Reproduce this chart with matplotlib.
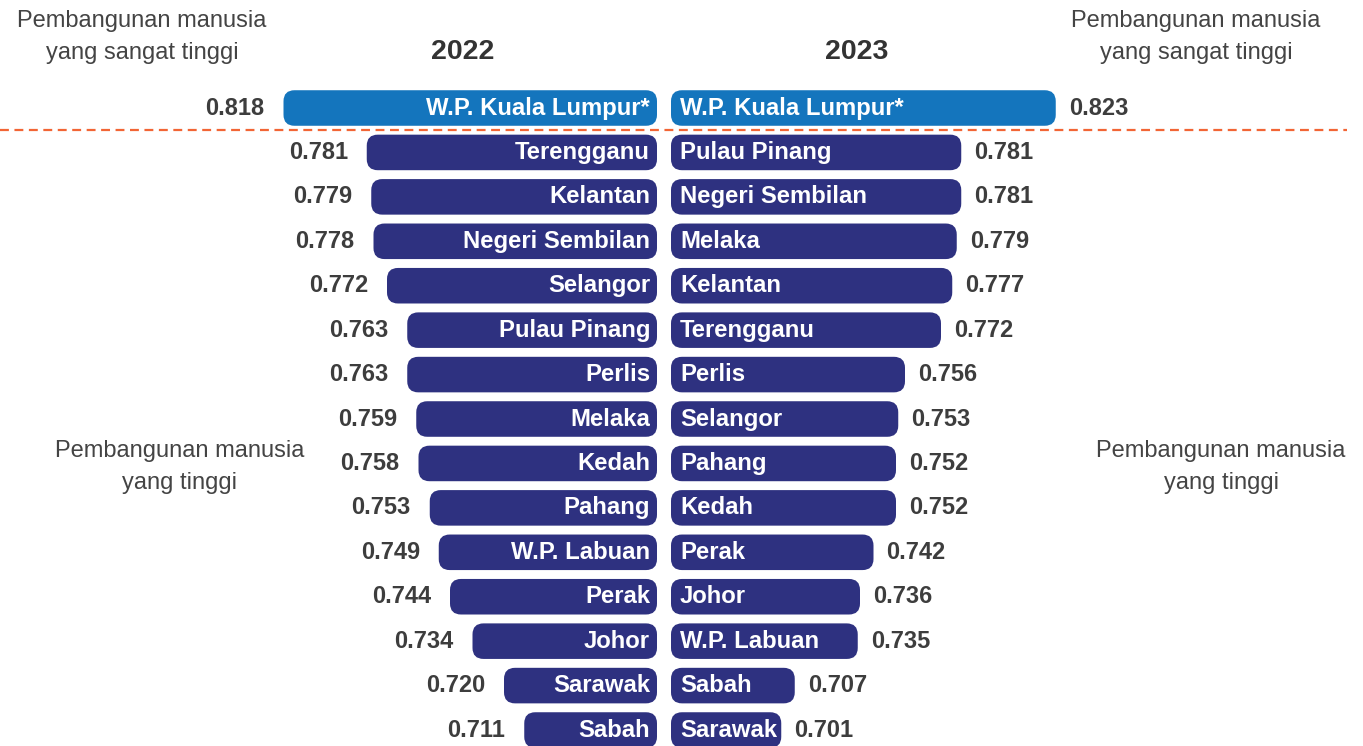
import matplotlib
matplotlib.use("Agg")
from matplotlib import pyplot as plt
from matplotlib.patches import FancyBboxPatch
from matplotlib.lines import Line2D

plt.rcParams['font.family'] = ['Liberation Sans', 'DejaVu Sans']

regions_2022 = ["W.P. Kuala Lumpur*", "Terengganu", "Kelantan", "Negeri Sembilan", "Selangor",
                "Pulau Pinang", "Perlis", "Melaka", "Kedah", "Pahang", "W.P. Labuan", "Perak",
                "Johor", "Sarawak", "Sabah"]
hdi_2022 = [0.818, 0.781, 0.779, 0.778, 0.772, 0.763, 0.763, 0.759, 0.758, 0.753,
            0.749, 0.744, 0.734, 0.720, 0.711]
regions_2023 = ["W.P. Kuala Lumpur*", "Pulau Pinang", "Negeri Sembilan", "Melaka", "Kelantan",
                "Terengganu", "Perlis", "Selangor", "Pahang", "Kedah", "Perak", "Johor",
                "W.P. Labuan", "Sabah", "Sarawak"]
hdi_2023 = [0.823, 0.781, 0.781, 0.779, 0.777, 0.772, 0.756, 0.753, 0.752, 0.752,
            0.742, 0.736, 0.735, 0.707, 0.701]
years = ["2022", "2023"]

W, H, DPI = 1363, 746, 100
base = 0.652        # value where bars start
scale = 2250.0      # pixels per index unit
row_px = 44.43      # pixels per row
top_row_px = 108

blue = '#1475bd'
navy = '#2e3180'
val_color = '#3d3d3d'
note_color = '#444444'

fig = plt.figure(figsize=(W / DPI, H / DPI), dpi=DPI)

y_top = -top_row_px / row_px
y_bot = (H - top_row_px) / row_px

left_w = 657
right_x0 = 671
ax_l = fig.add_axes([0, 0, left_w / W, 1])
ax_r = fig.add_axes([right_x0 / W, 0, (W - right_x0) / W, 1])
ax_l.set_xlim(base + left_w / scale, base)
ax_r.set_xlim(base, base + (W - right_x0) / scale)

aspect = scale / row_px
radius = 11 / scale


def draw_side(ax, names, values, left):
    ax.set_ylim(y_bot, y_top)
    ax.axis('off')
    for i, (name, v) in enumerate(zip(names, values)):
        color = blue if i == 0 else navy
        box = FancyBboxPatch((base, i - 0.4), v - base, 0.8,
                             boxstyle=f"round,pad=0,rounding_size={radius}",
                             mutation_aspect=aspect, facecolor=color,
                             edgecolor='none')
        ax.add_patch(box)
        if left:
            ax.text(base + 7 / scale, i, name, ha='right', va='center',
                    color='white', fontsize=17.2, fontweight='bold')
            ax.text(v + 19 / scale, i, f"{v:.3f}", ha='right', va='center',
                    color=val_color, fontsize=17, fontweight='bold')
        else:
            ax.text(base + 9 / scale, i, name, ha='left', va='center',
                    color='white', fontsize=17.2, fontweight='bold')
            ax.text(v + 13 / scale, i, f"{v:.3f}", ha='left', va='center',
                    color=val_color, fontsize=17, fontweight='bold')


draw_side(ax_l, regions_2022, hdi_2022, True)
draw_side(ax_r, regions_2023, hdi_2023, False)

# dashed separator between the very high and high groups
sep_y = 1 - 130 / H
fig.add_artist(Line2D([0, 1347 / W], [sep_y, sep_y], transform=fig.transFigure,
                      color='#f26535', lw=1.6, dashes=(4, 2.5)))

fig.text(463 / W, 1 - 52 / H, years[0], ha='center', va='center',
         fontsize=20.5, fontweight='bold', color='#333333')
fig.text(857 / W, 1 - 52 / H, years[1], ha='center', va='center',
         fontsize=20.5, fontweight='bold', color='#333333')

very_high = "Pembangunan manusia\nyang sangat tinggi"
high = "Pembangunan manusia\nyang tinggi"
for x, y, s in [(142, 37, very_high), (1196, 37, very_high),
                (180, 467, high), (1221, 467, high)]:
    fig.text(x / W, 1 - y / H, s, ha='center', va='center', fontsize=17,
             color=note_color, linespacing=1.58)

fig.savefig('out.png', dpi=DPI)
